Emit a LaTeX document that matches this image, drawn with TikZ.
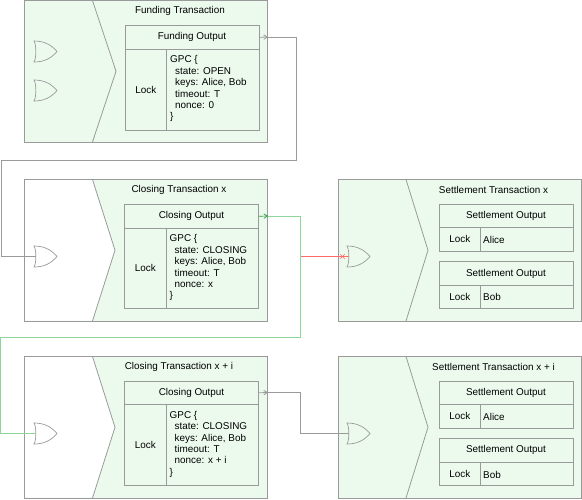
\documentclass[tikz,border=0pt]{standalone}
\usepackage{fontspec}
\setmainfont{Liberation Sans}
\usetikzlibrary{arrows.meta}
\definecolor{txfill}{HTML}{ECFAEE}
\definecolor{ln}{HTML}{9A9A9A}
\definecolor{grn}{HTML}{8FD69C}
\definecolor{grnd}{HTML}{2E9E46}
\definecolor{rd}{HTML}{FF6B6B}
\tikzset{
  tx/.style={draw=ln,fill=txfill,line width=0.9pt,inner sep=0pt,rectangle},
  cellbox/.style={draw=ln,line width=0.9pt,inner sep=0pt,rectangle,font=\fontsize{9.9}{11.4}\selectfont},
  codetxt/.style={align=left,anchor=north west,inner sep=0pt,font=\fontsize{9.9}{11.4}\selectfont},
  ttl/.style={inner sep=0pt,font=\fontsize{9.9}{12}\selectfont},
  chev/.style={draw=ln,line width=0.8pt},
  gatepath/.style={draw=ln,line width=0.7pt},
  conn/.style={draw=ln,line width=0.8pt},
  conng/.style={draw=grn,line width=1pt},
  connr/.style={draw=rd,line width=0.9pt},
  tip/.style={-{Straight Barb[length=3.5pt,width=4.5pt]}}
}
% name, x1, y1, x2, y2, text
\newcommand\cellnode[6]{%
  \pgfmathsetmacro\cw{#4-#2}\pgfmathsetmacro\ch{#5-#3}%
  \node[cellbox,minimum width=\cw pt,minimum height=\ch pt] (#1) at ({(#2+#4)/2},{(#3+#5)/2}) {\raisebox{-0.7pt}{#6}};}
% name, x1, y1, x2, y2, title, title centre x
\newcommand\txbox[7]{%
  \pgfmathsetmacro\cw{#4-#2}\pgfmathsetmacro\ch{#5-#3}%
  \node[tx,minimum width=\cw pt,minimum height=\ch pt] (#1) at ({(#2+#4)/2},{(#3+#5)/2}) {};
  \node[ttl] (#1t) at (#7,#3+10) {#6};}
% x1, ytop, ybottom, tipx
\newcommand\chevron[4]{\draw[chev] (#1,#2) -- (#4,{(#2+#3)/2}) -- (#1,#3);}
\newcommand\chevronw[5]{%
  \fill[white] (#5+0.5,#2+0.5) -- (#1,#2+0.5) -- (#4,{(#2+#3)/2}) -- (#1,#3-0.5) -- (#5+0.5,#3-0.5) -- cycle;
  \draw[chev] (#1,#2) -- (#4,{(#2+#3)/2}) -- (#1,#3);}
% name, x, ytop
\newcommand\gate[3]{%
  \draw[gatepath,shift={(#2,#3)}] (0,0) .. controls (2.5,4) and (2.5,17) .. (0,21)
     .. controls (10,21) and (17,17.5) .. (23,10.5) .. controls (17,3.5) and (10,0) .. (0,0) -- cycle;
  \coordinate (#1) at (#2+2,#3+10.5);}
% prefix, x1, ytop, ybottom, title, body
\newcommand\gpc[6]{%
  \pgfmathsetmacro\ya{#3+23.5}\pgfmathsetmacro\xa{#2+41.5}\pgfmathsetmacro\xb{#2+134}%
  \cellnode{#1h}{#2}{#3}{\xb}{\ya}{#5}
  \cellnode{#1l}{#2}{\ya}{\xa}{#4}{Lock}
  \cellnode{#1b}{\xa}{\ya}{\xb}{#4}{}
  \node[codetxt] (#1c) at (\xa+3.5,\ya+6.5) {#6};}
% prefix, x1, ytop, ydiv, ybottom, owner
\newcommand\setl[6]{%
  \pgfmathsetmacro\xa{#2+41.5}\pgfmathsetmacro\xb{#2+134}%
  \cellnode{#1h}{#2}{#3}{\xb}{#4}{Settlement Output}
  \cellnode{#1l}{#2}{#4}{\xa}{#5}{Lock}
  \cellnode{#1o}{\xa}{#4}{\xb}{#5}{}
  \node[codetxt,anchor=west] (#1n) at (\xa+2.5,{(#4+#5)/2+0.5}) {#6};}
\newcommand\ind{\hspace*{5pt}}
\begin{document}
\begin{tikzpicture}[x=1pt,y=-1pt]
\useasboundingbox (0,0) rectangle (582,499);
% Funding
\txbox{fund}{24.5}{0.5}{267}{142}{Funding Transaction}{180}
\chevron{92.5}{0.5}{142}{116}
\gate{fga}{34}{41}
\gate{fgb}{34}{80}
\gpc{fo}{125}{25.5}{130}{Funding Output}{GPC \{\\\ind state: OPEN\\\ind keys: Alice, Bob\\\ind timeout: T\\\ind nonce: 0\\\}}
% Closing x
\txbox{cx}{24.5}{179.5}{267}{321}{Closing Transaction x}{179}
\chevronw{92.5}{179.5}{321}{115}{24.5}
\gate{cg}{34}{246}
\gpc{co}{124.5}{204.5}{308}{Closing Output}{GPC \{\\\ind state: CLOSING\\\ind keys: Alice, Bob\\\ind timeout: T\\\ind nonce: x\\\}}
% Closing x+i
\txbox{ci}{24.5}{356.5}{267}{498}{Closing Transaction x + i}{179}
\chevronw{92.5}{356.5}{498}{115}{24.5}
\gate{cig}{34}{423}
\gpc{cio}{124.5}{381}{485}{Closing Output}{GPC \{\\\ind state: CLOSING\\\ind keys: Alice, Bob\\\ind timeout: T\\\ind nonce: x + i\\\}}
% Settlement x
\txbox{sx}{338.5}{179.5}{581.5}{321}{Settlement Transaction x}{493.5}
\chevron{406}{179.5}{321}{428}
\gate{sg}{347}{246}
\setl{sa}{439}{204.5}{227.5}{251}{Alice}
\setl{sb}{439}{261.5}{285.5}{308}{Bob}
% Settlement x+i
\txbox{si}{338.5}{356.5}{581.5}{498}{Settlement Transaction x + i}{493.5}
\chevron{406}{356.5}{498}{428}
\gate{sig}{347}{423}
\setl{ta}{439}{381}{404.5}{428}{Alice}
\setl{tb}{439}{438}{462.5}{485.5}{Bob}
% Connectors
\coordinate (a1) at (296,37);
\coordinate (a2) at (296,160);
\coordinate (a3) at (1,160);
\coordinate (a4) at (1,256.5);
\coordinate (at1) at (268,37);
\draw[conn,tip] (foh.east) -- (at1);
\draw[conn] (at1) -- (a1) -- (a2) -- (a3) -- (a4) -- (cg);
\coordinate (b1) at (300.5,216);
\coordinate (b2) at (300.5,337);
\coordinate (b3) at (0.5,337);
\coordinate (b4) at (0.5,433.5);
\coordinate (bt1) at (268,216);
\draw[conng] (bt1) -- (b1) -- (b2) -- (b3) -- (b4) -- (cig);
\draw[draw=grnd,line width=0.7pt,tip] (coh.east) -- (bt1);
\coordinate (r1) at (301,256.5);
\coordinate (rx) at (342.5,256.5);
\draw[connr] (r1) -- (sg);
\draw[draw=rd,line width=0.6pt] (rx) ++(-2.2,-2.2) -- ++(4.4,4.4) ++(-4.4,0) -- ++(4.4,-4.4);
\coordinate (c1) at (300.5,392.5);
\coordinate (c2) at (300.5,433.5);
\coordinate (ct1) at (268,392.5);
\draw[conn,tip] (cioh.east) -- (ct1);
\draw[conn] (ct1) -- (c1) -- (c2) -- (sig);
\end{tikzpicture}
\end{document}
